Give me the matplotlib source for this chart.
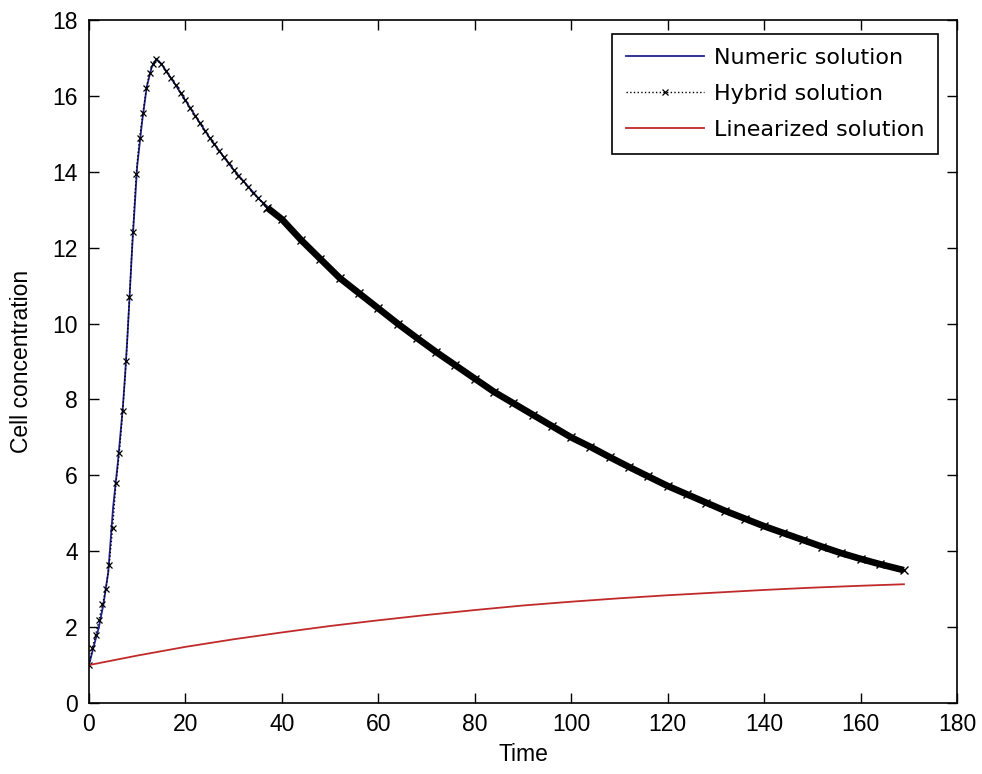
import matplotlib
matplotlib.use("Agg")
import matplotlib.pyplot as plt

plt.rcParams['font.family'] = ['Liberation Sans', 'DejaVu Sans']

# ---- data ----
# Numeric solution (blue)
num_t = [0, 1, 2, 3, 4, 4.5, 5, 6, 7, 7.5, 8, 8.5, 9, 10, 11, 12, 13, 14,
         15, 16.8, 18, 20, 21.6, 25, 28.6, 30, 35.5, 40, 45, 50, 55, 60, 65,
         70, 80, 85.3, 90, 100, 111.2, 120, 130, 140, 150, 160, 165, 169]
num_y = [1.0, 1.5, 1.97, 2.6, 3.45, 4.3, 5.15, 6.35, 7.75, 8.65, 9.7, 10.9, 12.1,
         14.15, 15.3, 16.25, 16.75, 16.97,
         16.85, 16.5, 16.28, 15.88, 15.56, 14.9, 14.28, 14.05, 13.25, 12.75,
         12.05, 11.45, 10.9, 10.4, 9.9, 9.45, 8.55, 8.08, 7.75, 7.0, 6.25,
         5.72, 5.17, 4.66, 4.21, 3.8, 3.64, 3.5]

# Hybrid solution, sparse part (black dotted, x markers)
hyb_t = [0, 0.7, 1.4, 2.1, 2.8, 3.5, 4.2, 4.9, 5.6, 6.3, 7.0, 7.7, 8.4, 9.1,
         9.8, 10.5, 11.2, 11.9, 12.6, 13.3, 14.0,
         15, 16, 17, 18, 19, 20, 21, 22, 23, 24, 25, 26, 27, 28, 29, 30, 31,
         32, 33, 34, 35, 36, 37]
hyb_y = [1.0, 1.45, 1.8, 2.2, 2.6, 3.0, 3.65, 4.6, 5.8, 6.6, 7.7, 9.0, 10.7,
         12.4, 13.95, 14.9, 15.55, 16.2, 16.6, 16.85, 16.97,
         16.85, 16.65, 16.47, 16.28, 16.08, 15.88, 15.68, 15.48, 15.28, 15.08,
         14.9, 14.72, 14.55, 14.38, 14.22, 14.05, 13.9, 13.75, 13.6, 13.45,
         13.32, 13.18, 13.05]

# Hybrid solution, dense part (markers so dense they form a thick band)
hyb_dense_t = [37, 40, 44, 48, 52, 56, 60, 64, 68, 72, 76, 80, 84, 88, 92, 96,
               100, 104, 108, 112, 116, 120, 124, 128, 132, 136, 140, 144,
               148, 152, 156, 160, 164, 169]
hyb_dense_y = [13.05, 12.75, 12.2, 11.7, 11.2, 10.8, 10.4, 10.0, 9.62, 9.25,
               8.9, 8.55, 8.2, 7.9, 7.6, 7.3, 7.0, 6.75, 6.48, 6.22, 5.97,
               5.72, 5.5, 5.28, 5.06, 4.86, 4.66, 4.48, 4.3, 4.12, 3.95, 3.8,
               3.66, 3.5]

# Linearized solution (red)
lin_t = [0, 10, 20, 30, 40, 50, 60, 70, 80, 90, 100, 110, 120, 130, 140, 150,
         160, 169]
lin_y = [1.0, 1.25, 1.48, 1.68, 1.86, 2.03, 2.18, 2.32, 2.45, 2.57, 2.67, 2.76,
         2.84, 2.91, 2.98, 3.04, 3.09, 3.13]

x_ticks = [0, 20, 40, 60, 80, 100, 120, 140, 160, 180]
y_ticks = [0, 2, 4, 6, 8, 10, 12, 14, 16, 18]

labels = ["Numeric solution", "Hybrid solution", "Linearized solution"]

# ---- figure ----
fig = plt.figure(figsize=(9.82, 7.74), dpi=100)
ax = fig.add_axes([0.0906, 0.0917, 0.8839, 0.8825])

FS = 16.5
blue = '#22228f'
red = '#c02a2a'

l1, = ax.plot(num_t, num_y, color=blue, lw=1.3, label=labels[0])
ax.plot(hyb_dense_t, hyb_dense_y, color='black', lw=4.8, solid_capstyle='butt')
ax.plot(hyb_dense_t, hyb_dense_y, ls='none', marker='x', color='black',
        ms=6, mew=1.0)
l2, = ax.plot(hyb_t, hyb_y, color='black', ls=':', lw=1.0, marker='x',
              ms=5, mew=0.9, label=labels[1])
l3, = ax.plot(lin_t, lin_y, color=red, lw=1.3, label=labels[2])

ax.set_xlim(0, 180)
ax.set_ylim(0, 18)
ax.set_xticks(x_ticks)
ax.set_yticks(y_ticks)
ax.tick_params(direction='in', length=7, width=1.0, top=True, right=True,
               labelsize=FS, colors='black')
ax.tick_params(axis='x', pad=7)
ax.tick_params(axis='y', pad=8)
for s in ax.spines.values():
    s.set_linewidth(1.2)
    s.set_color('black')

ax.set_xlabel("Time", fontsize=FS, labelpad=5)
ax.set_ylabel("Cell concentration", fontsize=FS, labelpad=14)

leg = ax.legend(handles=[l1, l2, l3], loc='upper right',
                bbox_to_anchor=(0.978, 0.9795), borderaxespad=0,
                prop={'family': ['DejaVu Sans'], 'size': 16},
                frameon=True, fancybox=False, shadow=False,
                handlelength=3.5, handletextpad=0.45, labelspacing=0.72,
                borderpad=0.62, numpoints=1)
leg.get_frame().set_edgecolor('black')
leg.get_frame().set_linewidth(1.2)
leg.get_frame().set_alpha(1)

fig.savefig("out.png", dpi=100, facecolor='white')
